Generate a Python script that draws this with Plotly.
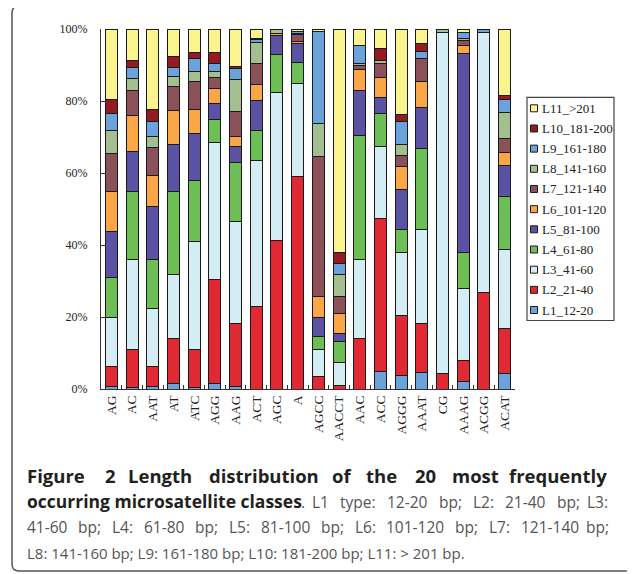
import plotly.graph_objects as go

# ---------------- data ----------------
categories = ["AG", "AC", "AAT", "AT", "ATC", "AGG", "AAG", "ACT", "AGC", "A",
              "AGCC", "AACCT", "AAC", "ACC", "AGGG", "AAAT", "CG", "AAAG", "ACGG", "ACAT"]

series_names = ["L1_12-20", "L2_21-40", "L3_41-60", "L4_61-80", "L5_81-100", "L6_101-120",
                "L7_121-140", "L8_141-160", "L9_161-180", "L10_181-200", "L11_>201"]

L1 = [0.7, 0.3, 0.8, 1.6, 0.3, 1.6, 0.8, 0, 0, 0, 0, 0, 0, 5.0, 3.8, 4.7, 0, 2.0, 0, 4.4]
L2 = [5.6, 10.6, 5.4, 12.4, 10.7, 28.7, 17.5, 22.9, 41.3, 59.1, 3.5, 1.1, 14.1, 42.4, 16.6, 13.6, 4.3, 5.8, 26.7, 12.5]
L3 = [13.6, 25.2, 16.3, 17.7, 30.0, 38.2, 28.1, 40.7, 41.1, 25.9, 7.4, 6.2, 21.8, 20.0, 17.4, 26.0, 94.6, 20.1, 72.2, 21.9]
L4 = [11.2, 18.7, 13.4, 23.1, 16.9, 6.5, 16.5, 8.2, 10.5, 5.6, 3.6, 5.9, 34.4, 9.2, 6.5, 22.6, 0, 10.1, 0, 14.6]
L5 = [12.6, 11.2, 14.9, 13.1, 13.0, 4.2, 4.4, 8.3, 5.3, 5.5, 5.4, 2.3, 12.6, 4.5, 11.1, 11.4, 0, 55.2, 0, 8.6]
L6 = [11.2, 9.9, 8.5, 9.4, 6.8, 4.2, 2.8, 4.4, 0.6, 0.5, 5.9, 5.5, 5.8, 5.3, 6.3, 7.1, 0, 2.2, 0, 3.7]
L7 = [10.4, 6.9, 7.8, 6.6, 7.8, 3.1, 7.1, 5.8, 0, 2.0, 38.9, 4.8, 1.1, 4.0, 3.3, 6.3, 0, 1.3, 0, 3.8]
L8 = [6.6, 3.5, 3.1, 2.8, 2.6, 1.7, 8.9, 6.0, 1.2, 0.2, 9.1, 5.9, 0.7, 0.8, 3.0, 0, 1.1, 0.6, 0, 7.3]
L9 = [4.6, 3.1, 4.1, 2.7, 3.6, 2.2, 2.9, 0.7, 0, 0.6, 25.4, 3.3, 4.9, 0, 6.2, 2.1, 0, 1.6, 1.1, 3.6]
L10 = [4.0, 1.8, 3.4, 2.9, 1.8, 3.1, 0.6, 0.4, 0, 0, 0, 3.0, 0, 3.5, 2.1, 2.2, 0, 0, 0, 1.2]
L11 = [19.5, 8.8, 22.3, 7.7, 6.5, 6.5, 10.4, 2.6, 0, 0.6, 0.8, 62.0, 4.6, 5.3, 23.7, 4.0, 0, 1.1, 0, 18.4]

y_tickvals = [0, 20, 40, 60, 80, 100]
y_ticktext = ["0%", "20%", "40%", "60%", "80%", "100%"]

colors = ["#6CA2DB", "#E02932", "#D4EDF4", "#6DBE55", "#5B52A3", "#F9A646",
          "#8B5159", "#A3BF8F", "#6CA2DB", "#941B1F", "#FAF48E"]

series_values = [L1, L2, L3, L4, L5, L6, L7, L8, L9, L10, L11]

# ---------------- geometry (screen pixels; page body has an 8px margin) ----------------
OFF = 8
W, H = 635 - OFF, 574 - OFF
SL, SR, ST, SB = 101, 515, 29, 389   # plot area in screen pixels


def px(x):
    return (x - SL) / (SR - SL)


def py(y):
    return (SB - y) / (SB - ST)


fig = go.Figure()
for name, vals, col in zip(series_names, series_values, colors):
    fig.add_trace(go.Bar(
        x=categories,
        y=[v if v else None for v in vals],
        name=name,
        marker=dict(color=col, line=dict(color="#1a1a1a", width=1)),
        showlegend=False,
    ))

shapes = []
annotations = []

# ---------- legend (drawn box, keys and labels) ----------
shapes.append(dict(type="rect", xref="paper", yref="paper",
                   x0=px(527), x1=px(614), y0=py(97.3), y1=py(320.5),
                   line=dict(color="#444", width=1.2), fillcolor="rgba(0,0,0,0)"))
leg_top = 108.3
leg_step = 20.17
for i in range(len(series_names)):
    k = len(series_names) - 1 - i
    yc = leg_top + i * leg_step
    shapes.append(dict(type="rect", xref="paper", yref="paper",
                       x0=px(530.5), x1=px(537.5), y0=py(yc + 3.5), y1=py(yc - 3.5),
                       fillcolor=colors[k], line=dict(color="#1a1a1a", width=1)))
    annotations.append(dict(text=series_names[k], xref="paper", yref="paper",
                            x=px(539.5), y=py(yc), xanchor="left", yanchor="middle",
                            showarrow=False,
                            font=dict(family="Liberation Serif", size=13, color="#222")))

# ---------- outer rounded frame ----------
x0f, y0f, x1f, y1f, r = 12, 6, 632, 571, 7


def P(x, y):
    return f"{px(x):.5f},{py(y):.5f}"


path = (f"M {P(x0f + r, y0f)} L {P(x1f - r, y0f)} Q {P(x1f, y0f)} {P(x1f, y0f + r)} "
        f"L {P(x1f, y1f - r)} Q {P(x1f, y1f)} {P(x1f - r, y1f)} "
        f"L {P(x0f + r, y1f)} Q {P(x0f, y1f)} {P(x0f, y1f - r)} "
        f"L {P(x0f, y0f + r)} Q {P(x0f, y0f)} {P(x0f + r, y0f)} Z")
shapes.append(dict(type="path", xref="paper", yref="paper", path=path,
                   line=dict(color="#555", width=1.5)))

# ---------- caption ----------
REG = {' ': .26, '-': .322, ':': .266, ';': .266, '.': .266, '>': .572, 'b': .613, 'p': .613,
       'L': .519, 't': .361, 'y': .5, 'e': .561, 'c': .479, 'o': .601, 'l': .258, 'a': .556}

BOLDC = "#231f20"
REGC = "#555555"
LEFT, RIGHT = 25, 610
BSIZE, RSIZE = 17.5, 15
JSIZE = 15.5


def add_text(text, x, yc, size, color, anchor="left"):
    annotations.append(dict(text=text, xref="paper", yref="paper",
                            x=px(x), y=py(yc), xanchor=anchor, yanchor="middle",
                            showarrow=False,
                            font=dict(family="Open Sans", size=size, color=color)))


def justify_regular(words, yc, left, right, size):
    widths = [sum(REG.get(ch, .572) for ch in w) * size for w in words]
    gap = (right - left - sum(widths)) / (len(words) - 1)
    x = left
    for i, (w, wd) in enumerate(zip(words, widths)):
        if i == len(words) - 1:
            add_text(w, right, yc, size, REGC, anchor="right")
        else:
            add_text(w, x, yc, size, REGC)
        x += wd + gap


# line 1: bold, justified with even word gaps
line1 = "Figure 2 Length distribution of the 20 most frequently".split()
line1_x = [25, 102.5, 126, 206.5, 330, 363.5, 413, 449.5]
for w, x in zip(line1[:-1], line1_x):
    add_text(f"<b>{w}</b>", x, 475, 18.5, BOLDC)
add_text(f"<b>{line1[-1]}</b>", 609, 475, 18.5, BOLDC, anchor="right")

# line 2: bold phrase, then justified regular text
add_text("<b>occurring microsatellite classes</b>", LEFT, 500.5, BSIZE, BOLDC)
add_text(".", 299, 501.5, JSIZE, REGC)
justify_regular("L1 type: 12-20 bp; L2: 21-40 bp; L3:".split(), 501.5, 310, RIGHT, JSIZE)

# line 3: justified regular text
justify_regular("41-60 bp; L4: 61-80 bp; L5: 81-100 bp; L6: 101-120 bp; L7: 121-140 bp;".split(),
                527, LEFT, RIGHT + 1, JSIZE)

# line 4: ragged
add_text("L8: 141-160 bp; L9: 161-180 bp; L10: 181-200 bp; L11: > 201 bp.", LEFT, 553, RSIZE, REGC)

fig.update_layout(
    width=W, height=H,
    margin=dict(l=SL - OFF, r=635 - SR, t=ST - OFF, b=574 - SB, pad=0),
    paper_bgcolor="white", plot_bgcolor="white",
    barmode="stack", bargap=0.42,
    showlegend=False,
    shapes=shapes,
    annotations=annotations,
    xaxis=dict(type="category", tickangle=-90, showline=True, linecolor="#333", linewidth=1,
               ticks="inside", ticklen=4, tickcolor="#333", tickson="boundaries",
               showgrid=False, zeroline=False,
               tickfont=dict(family="Liberation Serif", size=13.5, color="#222")),
    yaxis=dict(range=[0, 100], tickvals=y_tickvals, ticktext=y_ticktext,
               showline=True, linecolor="#333", linewidth=1,
               ticks="inside", ticklen=4, tickcolor="#333", ticklabelstandoff=10,
               showgrid=False, zeroline=False,
               tickfont=dict(family="Liberation Serif", size=12, color="#222")),
)

fig.write_html("out.html")
